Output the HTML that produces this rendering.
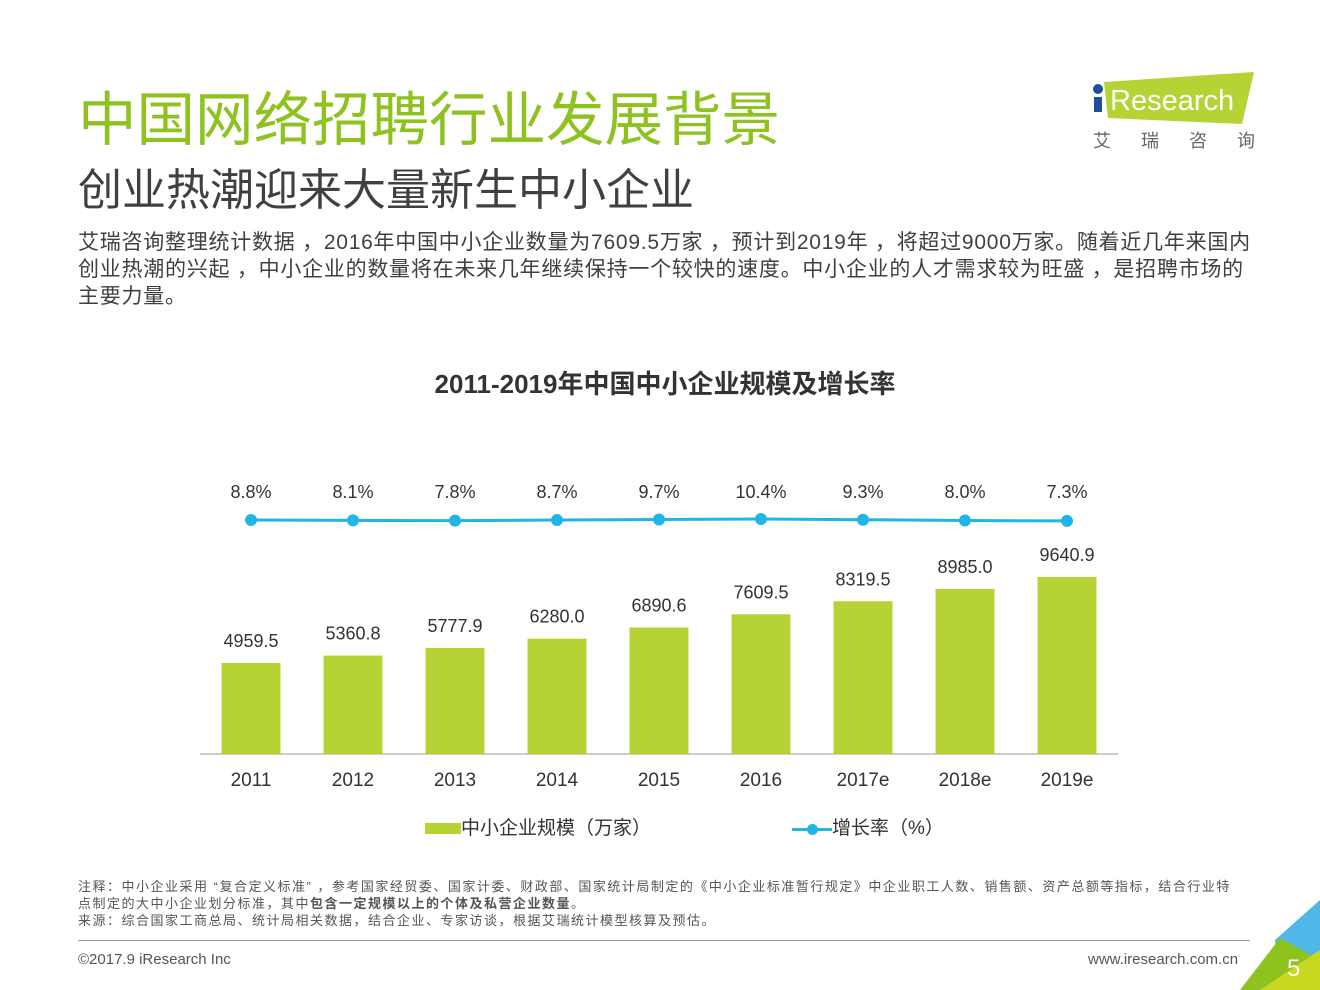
<!DOCTYPE html>
<html><head><meta charset="utf-8"><style>
body{margin:0;width:1320px;height:990px;overflow:hidden;background:#fff;position:relative;font-family:"Liberation Sans","Noto Sans CJK SC",sans-serif;}
div,span{position:absolute;}
</style></head><body>
<div style="left:78px;top:72px;font-size:58.5px;color:#8dc21f;white-space:nowrap">中国网络招聘行业发展背景</div>
<div style="left:78px;top:154px;font-size:44px;color:#404040;white-space:nowrap">创业热潮迎来大量新生中小企业</div>
<div style="left:78px;top:229px;width:1220px;font-size:21px;line-height:27px;color:#404040;white-space:nowrap;letter-spacing:0.75px">艾瑞咨询整理统计数据 ，2016年中国中小企业数量为7609.5万家 ，预计到2019年 ，将超过9000万家。随着近几年来国内<br>创业热潮的兴起 ，中小企业的数量将在未来几年继续保持一个较快的速度。中小企业的人才需求较为旺盛 ，是招聘市场的<br>主要力量。</div>
<svg style="position:absolute;left:1090px;top:70px" width="170" height="90">
<polygon points="14,12 164,2 152,54 18,48" fill="#b5d334"/>
<circle cx="8" cy="19" r="5" fill="#1f4e9c"/>
<rect x="4" y="27" width="8" height="15" fill="#1f4e9c"/>
<text x="20" y="40" font-size="29" fill="#fff" font-family="Liberation Sans">Research</text>
<text x="3" y="77" font-size="18" fill="#666" letter-spacing="30">艾瑞咨询</text>
</svg>
<div style="left:0;width:1330px;top:364px;text-align:center;font-size:26px;font-weight:bold;color:#333">2011-2019年中国中小企业规模及增长率</div>
<svg id="chart" style="position:absolute;left:0;top:0" width="1320" height="990"></svg>
<div style="left:425px;top:813px;font-size:19px;color:#333;white-space:nowrap"><span style="position:relative;display:inline-block;width:36px;height:11px;background:#b5d334;vertical-align:middle"></span>中小企业规模（万家）</div>
<div style="left:792px;top:813px;font-size:19px;color:#333;white-space:nowrap"><span style="position:relative;display:inline-block;width:40px;height:12px;vertical-align:middle"><span style="left:0;top:5px;width:40px;height:3px;background:#1fb6e6"></span><span style="left:15px;top:1px;width:11px;height:11px;border-radius:50%;background:#1fb6e6"></span></span>增长率（%）</div>
<div style="left:78px;top:878px;width:1200px;font-size:13px;line-height:17px;color:#555;white-space:nowrap;letter-spacing:1.5px">注释：中小企业采用 “复合定义标准” ，参考国家经贸委、国家计委、财政部、国家统计局制定的《中小企业标准暂行规定》中企业职工人数、销售额、资产总额等指标，结合行业特<br>点制定的大中小企业划分标准，其中<b>包含一定规模以上的个体及私营企业数量</b>。<br>来源：综合国家工商总局、统计局相关数据，结合企业、专家访谈，根据艾瑞统计模型核算及预估。</div>
<div style="left:78px;top:940px;width:1172px;height:1px;background:#999"></div>
<div style="left:78px;top:951px;font-size:15px;color:#555">©2017.9 iResearch Inc</div>
<div style="left:1088px;top:951px;font-size:15px;color:#555">www.iresearch.com.cn</div>
<svg style="position:absolute;left:1240px;top:900px" width="80" height="90">
<polygon points="80,0 80,60 40,90 35,40" fill="#4fb8e8"/>
<polygon points="40,38 80,60 80,90 0,90" fill="#8dc21f"/>
<polygon points="20,90 80,50 80,90" fill="#c8d820"/>
<text x="47" y="76" font-size="24" fill="#fff" font-family="Liberation Sans">5</text>
</svg>
<script>
const categories=["2011","2012","2013","2014","2015","2016","2017e","2018e","2019e"];
const sizes=[4959.5,5360.8,5777.9,6280.0,6890.6,7609.5,8319.5,8985.0,9640.9];
const rates=[8.8,8.1,7.8,8.7,9.7,10.4,9.3,8.0,7.3];
const sizeLabels=["4959.5","5360.8","5777.9","6280.0","6890.6","7609.5","8319.5","8985.0","9640.9"];
const rateLabels=["8.8%","8.1%","7.8%","8.7%","9.7%","10.4%","9.3%","8.0%","7.3%"];
const svg=document.getElementById('chart');const NS='http://www.w3.org/2000/svg';
const base=754;
function xs(i){return 251+i*102;}
function ys(v){return base-v*0.01836;}
function yr(v){return 520-(v-8.8)*0.6;}
function mk(t,a){const e=document.createElementNS(NS,t);for(const k in a)e.setAttribute(k,a[k]);svg.appendChild(e);return e;}
const ax=mk('line',{x1:200,x2:1118,y1:base,y2:base,stroke:'#bbb','stroke-width':1.5});


categories.forEach((c,i)=>{
 const b=mk('rect',{x:xs(i)-29.5,y:ys(sizes[i]),width:59,height:base-ys(sizes[i]),fill:'#b5d334'});
 
 
 const t=mk('text',{x:xs(i),y:ys(sizes[i])-16,'text-anchor':'middle','font-size':18,fill:'#333'});t.textContent=sizeLabels[i];
 
 
 const l=mk('text',{x:xs(i),y:786,'text-anchor':'middle','font-size':19,fill:'#333'});l.textContent=c;
 
 
});
const pl=mk('polyline',{points:rates.map((r,i)=>xs(i)+','+yr(r)).join(' '),fill:'none',stroke:'#1fb6e6','stroke-width':3});


rates.forEach((r,i)=>{
 const c=mk('circle',{cx:xs(i),cy:yr(r),r:6,fill:'#1fb6e6'});
 
 
 const t=mk('text',{x:xs(i),y:498,'text-anchor':'middle','font-size':18,fill:'#333'});t.textContent=rateLabels[i];
 
 
});
</script>
</body></html>
